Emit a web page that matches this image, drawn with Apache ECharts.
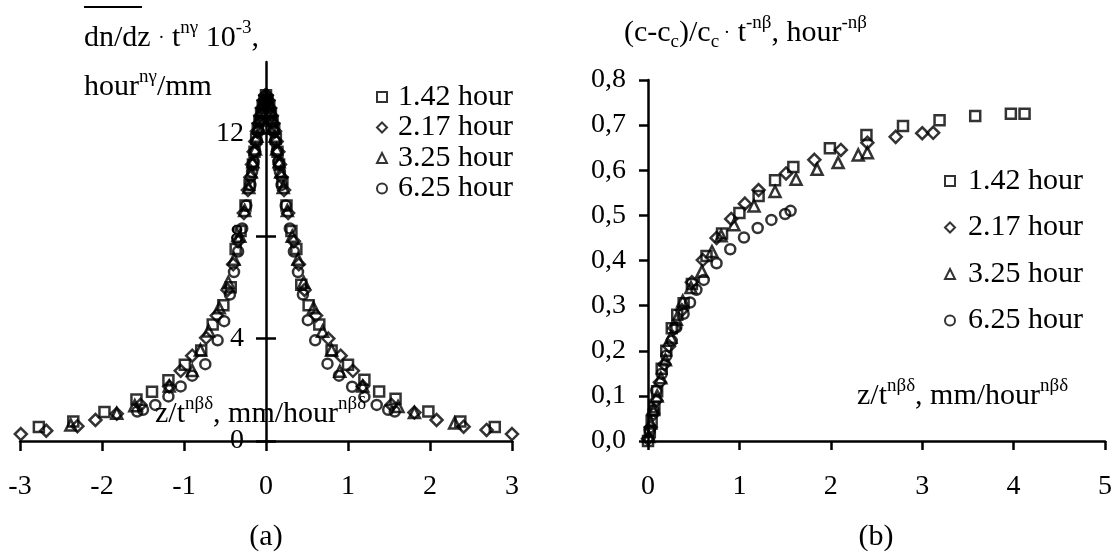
<!DOCTYPE html>
<html><head><meta charset="utf-8">
<script src="https://cdn.jsdelivr.net/npm/echarts@6/dist/echarts.min.js"></script>
<style>html,body{margin:0;padding:0;background:#fff}#c{width:1114px;height:559px}</style>
</head><body><div id="c"></div>
<script>
// ---- data ----
const seriesNames = ['1.42 hour', '2.17 hour', '3.25 hour', '6.25 hour'];
const leftXTicks = [-3, -2, -1, 0, 1, 2, 3];
const leftYTicks = [0, 4, 8, 12];
const rightXTicks = [0, 1, 2, 3, 4, 5];
const rightYTicks = [0, 0.1, 0.2, 0.3, 0.4, 0.5, 0.6, 0.7, 0.8];

// panel (a): [z/t^nbd, dn/dz * t^ng * 1e-3]
const a142 = [[-2.77,0.55],[-2.35,0.76],[-1.97,1.13],[-1.58,1.62],[-1.39,1.92],[-1.19,2.37],[-0.99,2.98],[-0.79,3.53],[-0.65,4.55],[-0.52,5.3],[-0.43,6.0],[-0.37,7.5],[-0.31,8.2],[-0.25,9.2],[-0.2,10.0],[-0.16,10.8],[-0.14,11.3],[-0.12,11.8],[-0.1,12.2],[-0.08,12.5],[-0.06,12.8],[-0.04,13.1],[-0.02,13.3],[0,13.5],[0.02,13.3],[0.04,13.1],[0.06,12.8],[0.08,12.5],[0.1,12.2],[0.12,11.8],[0.14,11.3],[0.16,10.8],[0.2,10.1],[0.25,9.2],[0.31,8.2],[0.37,7.5],[0.43,6.1],[0.52,5.3],[0.65,4.55],[0.8,3.53],[1.0,2.98],[1.2,2.39],[1.38,1.93],[1.58,1.65],[1.98,1.15],[2.37,0.76],[2.79,0.55]];
const a217 = [[-2.99,0.27],[-2.68,0.4],[-2.3,0.58],[-2.08,0.82],[-1.82,1.06],[-1.53,1.41],[-1.18,2.13],[-1.04,2.74],[-0.9,3.33],[-0.73,4.03],[-0.6,4.9],[-0.47,5.9],[-0.4,6.9],[-0.34,7.8],[-0.27,8.9],[-0.22,9.8],[-0.19,10.3],[-0.17,10.8],[-0.15,11.3],[-0.13,11.7],[-0.11,12.1],[-0.09,12.4],[-0.07,12.7],[-0.05,13.0],[-0.03,13.3],[-0.01,13.5],[0.01,13.5],[0.03,13.3],[0.05,13.0],[0.07,12.7],[0.09,12.4],[0.11,12.1],[0.13,11.7],[0.15,11.3],[0.17,10.8],[0.19,10.3],[0.22,9.8],[0.27,8.9],[0.34,7.8],[0.4,6.9],[0.47,5.9],[0.61,4.9],[0.76,4.0],[0.91,3.33],[1.06,2.74],[1.18,2.13],[1.53,1.41],[1.81,1.11],[2.08,0.82],[2.41,0.56],[2.69,0.43],[3.0,0.27]];
const a325 = [[-2.38,0.62],[-1.82,1.08],[-1.6,1.38],[-1.18,2.15],[-0.9,2.75],[-0.8,3.55],[-0.7,4.3],[-0.57,5.2],[-0.46,6.2],[-0.39,7.1],[-0.32,8.0],[-0.26,9.0],[-0.21,9.9],[-0.18,10.5],[-0.16,10.9],[-0.13,11.4],[-0.11,11.9],[-0.09,12.3],[-0.07,12.6],[-0.05,12.9],[-0.03,13.2],[-0.01,13.4],[0.01,13.4],[0.03,13.2],[0.05,12.9],[0.07,12.6],[0.09,12.3],[0.11,11.9],[0.13,11.4],[0.16,10.9],[0.18,10.5],[0.21,9.9],[0.26,9.0],[0.32,8.0],[0.39,7.1],[0.46,6.2],[0.58,5.2],[0.69,4.29],[0.8,3.55],[0.9,2.72],[1.18,2.15],[1.61,1.35],[1.81,1.11],[2.3,0.7]];
const a625 = [[-1.57,1.15],[-1.5,1.22],[-1.35,1.41],[-1.19,1.74],[-1.04,2.13],[-0.9,2.55],[-0.74,3.0],[-0.59,3.93],[-0.51,4.68],[-0.44,5.72],[-0.39,6.6],[-0.34,7.4],[-0.29,8.3],[-0.24,9.2],[-0.19,10.0],[-0.17,10.5],[-0.15,10.9],[-0.13,11.3],[-0.11,11.7],[-0.09,12.1],[-0.07,12.5],[-0.05,12.8],[-0.03,13.1],[-0.01,13.3],[0.01,13.3],[0.03,13.1],[0.05,12.8],[0.07,12.5],[0.09,12.1],[0.11,11.7],[0.13,11.3],[0.15,10.9],[0.17,10.5],[0.19,10.0],[0.24,9.2],[0.29,8.3],[0.34,7.4],[0.39,6.6],[0.45,5.72],[0.51,4.72],[0.6,3.93],[0.75,3.02],[0.89,2.55],[1.05,2.12],[1.2,1.72],[1.35,1.41],[1.49,1.22],[1.57,1.15]];

// panel (b): [z/t^nbd, (c-cc)/cc * t^-nb]
const b142 = [[0,0],[0.02,0.02],[0.04,0.045],[0.07,0.075],[0.1,0.11],[0.15,0.16],[0.2,0.2],[0.26,0.25],[0.32,0.28],[0.39,0.305],[0.48,0.348],[0.64,0.41],[0.81,0.46],[1.0,0.505],[1.21,0.543],[1.39,0.578],[1.59,0.607],[1.99,0.649],[2.39,0.678],[2.79,0.698],[3.19,0.711],[3.58,0.72],[3.97,0.725],[4.12,0.725]];
const b217 = [[0,0.005],[0.03,0.03],[0.06,0.06],[0.09,0.09],[0.13,0.13],[0.18,0.17],[0.23,0.21],[0.29,0.25],[0.37,0.29],[0.48,0.352],[0.6,0.401],[0.75,0.45],[0.91,0.492],[1.06,0.526],[1.21,0.556],[1.51,0.593],[1.82,0.623],[2.11,0.645],[2.4,0.661],[2.71,0.674],[3.0,0.682],[3.12,0.683]];
const b325 = [[0.01,0.01],[0.03,0.04],[0.06,0.07],[0.1,0.1],[0.14,0.14],[0.19,0.18],[0.25,0.23],[0.31,0.27],[0.38,0.31],[0.47,0.34],[0.59,0.376],[0.7,0.42],[0.8,0.455],[0.94,0.479],[1.16,0.521],[1.39,0.553],[1.62,0.58],[1.85,0.602],[2.08,0.617],[2.3,0.634],[2.4,0.639]];
const b625 = [[0.02,0.023],[0.06,0.068],[0.09,0.112],[0.15,0.149],[0.2,0.189],[0.26,0.222],[0.31,0.252],[0.39,0.282],[0.46,0.307],[0.53,0.335],[0.61,0.357],[0.75,0.394],[0.9,0.425],[1.05,0.451],[1.2,0.472],[1.35,0.49],[1.5,0.503],[1.56,0.51]];

// ---- styling ----
const F = 'Liberation Serif';
const symbols = ['rect', 'diamond', 'triangle', 'circle'];
const symSizes = [10, 12, 11, 10];
const leftData = [a142, a217, a325, a625];
const rightData = [b142, b217, b325, b625];
const axisColor = '#000';
const lineW = 2.5;
const GL = 20, GR = 512;          // left panel plot edges (px)
const yOff = -((GL + GR) / 2 - GL); // moves left y axis onto x = 0

function mkSeries(data, i, grid) {
  return {
    type: 'scatter', name: seriesNames[i], data: data,
    xAxisIndex: grid === 0 ? 0 : 1, yAxisIndex: grid === 0 ? 0 : 2,
    symbol: symbols[i], symbolSize: symSizes[i],
    itemStyle: { color: 'rgba(255,255,255,0)', borderColor: '#000', borderWidth: 2.5 },
    emphasis: { disabled: true }, animation: false, z: 3
  };
}
const series = [];
leftData.forEach((d, i) => series.push(mkSeries(d, i, 0)));
rightData.forEach((d, i) => series.push(mkSeries(d, i, 1)));

const labelStyle = { fontFamily: F, fontSize: 28, color: '#000' };
const rich = {
  m: { fontFamily: F, fontSize: 30, lineHeight: 38, fill: '#000' },
  s: { fontFamily: F, fontSize: 19, lineHeight: 19, verticalAlign: 'top', fill: '#000' },
  b: { fontFamily: F, fontSize: 19, lineHeight: 19, verticalAlign: 'bottom', fill: '#000' },
  d: { fontFamily: F, fontSize: 19, lineHeight: 38, fill: '#000' }
};
function txt(x, y, text, align) {
  return { type: 'text', x: x, y: y, silent: true,
    style: { text: text, rich: rich, align: align || 'left', verticalAlign: 'middle', fill: '#000', fontFamily: F, fontSize: 30 } };
}

const option = {
  backgroundColor: '#fff',
  animation: false,
  grid: [
    { left: GL, right: 1114 - GR, top: 62, bottom: 118, outerBoundsMode: 'none', containLabel: false },
    { left: 648, right: 9, top: 80, bottom: 118, outerBoundsMode: 'none', containLabel: false }
  ],
  xAxis: [
    { gridIndex: 0, type: 'value', min: -3, max: 3, interval: 1,
      axisLine: { onZero: false, lineStyle: { color: axisColor, width: lineW } },
      axisTick: { length: 10, lineStyle: { color: axisColor, width: lineW } },
      axisLabel: Object.assign({ margin: 32, customValues: leftXTicks }, labelStyle),
      splitLine: { show: false } },
    { gridIndex: 1, type: 'value', min: 0, max: 5, interval: 1,
      axisLine: { onZero: false, lineStyle: { color: axisColor, width: lineW } },
      axisTick: { length: 9, lineStyle: { color: axisColor, width: lineW } },
      axisLabel: Object.assign({ margin: 32, customValues: rightXTicks }, labelStyle),
      splitLine: { show: false } }
  ],
  yAxis: [
    { gridIndex: 0, type: 'value', min: 0, max: 14.8, interval: 4, position: 'left', offset: yOff,
      axisLine: { onZero: false, lineStyle: { color: axisColor, width: lineW } },
      axisTick: { length: 10, customValues: leftYTicks, lineStyle: { color: axisColor, width: lineW } },
      axisLabel: Object.assign({ margin: 22, customValues: leftYTicks }, labelStyle),
      splitLine: { show: false } },
    { gridIndex: 0, type: 'value', min: 0, max: 14.8, interval: 4, position: 'left', offset: yOff,
      axisLine: { show: false, onZero: false },
      axisTick: { inside: true, length: 10, customValues: leftYTicks, lineStyle: { color: axisColor, width: lineW } },
      axisLabel: { show: false },
      splitLine: { show: false } },
    { gridIndex: 1, type: 'value', min: 0, max: 0.8, interval: 0.1,
      axisLine: { onZero: false, lineStyle: { color: axisColor, width: lineW } },
      axisTick: { length: 9, lineStyle: { color: axisColor, width: lineW } },
      axisLabel: Object.assign({ margin: 22, customValues: rightYTicks,
        formatter: v => v.toFixed(1).replace('.', ',') }, labelStyle),
      splitLine: { show: false } }
  ],
  legend: [
    { data: seriesNames, orient: 'vertical', left: 376, top: 82, padding: 0,
      itemWidth: 10, itemHeight: 10, itemGap: 0.5, selectedMode: false,
      textStyle: { fontFamily: F, fontSize: 30, color: '#000', lineHeight: 30, padding: [0, 0, 0, 6] } },
    { data: seriesNames, orient: 'vertical', left: 944, top: 166, padding: 0,
      itemWidth: 10, itemHeight: 10, itemGap: 16.5, selectedMode: false,
      textStyle: { fontFamily: F, fontSize: 30, color: '#000', lineHeight: 30, padding: [0, 0, 0, 8] } }
  ],
  graphic: [
    { type: 'line', silent: true, shape: { x1: 84, y1: 7, x2: 142, y2: 7 }, style: { stroke: '#000', lineWidth: 2 } },
    txt(84, 38, '{m|dn/dz }{d|·}{m| t}{s|nγ}{m| 10}{s|-3}{m|,}'),
    txt(84, 87, '{m|hour}{s|nγ}{m|/mm}'),
    txt(155, 414, '{m|z/t}{s|nβδ}{m|, mm/hour}{s|nβδ}'),
    txt(624, 33, '{m|(c-c}{b|c}{m|)/c}{b|c}{d| ·}{m| t}{s|-nβ}{m|, hour}{s|-nβ}'),
    txt(857, 396, '{m|z/t}{s|nβδ}{m|, mm/hour}{s|nβδ}'),
    txt(266, 537, '{m|(a)}', 'center'),
    txt(876, 537, '{m|(b)}', 'center')
  ],
  series: series
};
const chart = echarts.init(document.getElementById('c'), null, { renderer: 'canvas' });
chart.setOption(option);
</script>
</body></html>
